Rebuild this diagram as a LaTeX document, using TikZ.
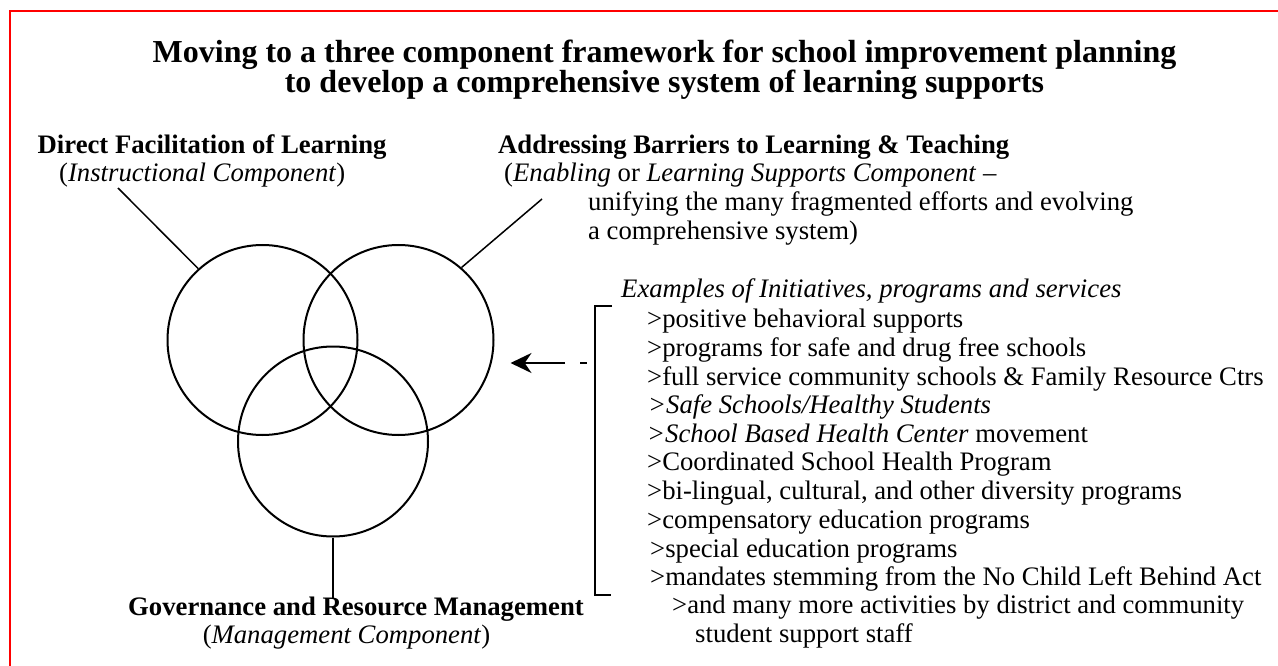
\documentclass[tikz,border=0pt]{standalone}
\usepackage{fontspec}
\setmainfont{Liberation Serif}
\usetikzlibrary{arrows.meta}

\newcommand\titlesize{\fontsize{32}{30}\selectfont}
\newcommand\bodysize{\fontsize{26.7}{28.7}\selectfont}

\tikzset{
  ring/.style={draw, circle, minimum size=190pt, line width=2pt},
  headline/.style={inner sep=0pt, anchor=base west, font=\bodysize\bfseries},
  textline/.style={inner sep=0pt, anchor=base west, font=\bodysize},
}

\begin{document}
\begin{tikzpicture}[x=1pt, y=-1pt]
\useasboundingbox (0,0) rectangle (1278,666);

% frame
\draw[red, line width=2pt] (1278,11) -- (10,11) -- (10,666);

% title
\node[inner sep=0pt, anchor=base, font=\titlesize\bfseries] (title1) at (664.5,63)
  {Moving to a three component framework for school improvement planning};
\node[inner sep=0pt, anchor=base, font=\titlesize\bfseries] (title2) at (664.5,93)
  {to develop a comprehensive system of learning supports};

% the three components
\node[ring] (instr) at (262.5,340) {};
\node[ring] (enabl) at (398.5,340) {};
\node[ring] (manag) at (333,441.5) {};

\node[headline] (instrhead) at (37.5,154) {Direct Facilitation of Learning};
\node[textline] (instrsub) at (59,182) {(\textit{Instructional Component})};

\node[headline] (enablhead) at (498,154) {Addressing Barriers to Learning \& Teaching};
\node[textline] (enablsub1) at (504,182) {(\textit{Enabling} or \textit{Learning Supports Component} --};
\node[textline] (enablsub2) at (588,211) {unifying the many fragmented efforts and evolving};
\node[textline] (enablsub3) at (588,240) {a comprehensive system)};

\node[headline, anchor=base] (managhead) at (356,615) {Governance and Resource Management};
\node[textline, anchor=base] (managsub) at (346.5,643) {(\textit{Management Component})};

\coordinate (instrtail) at (118,188);
\coordinate (enabltail) at (542,199);
\draw[line width=1.5pt] (instrtail) -- (instr.132);
\draw[line width=1.5pt] (enabltail) -- (enabl.49);
\draw[line width=2pt] (manag.south) -- ++(0,61);

% examples list
\node[textline] (ex) at (621,297) {\textit{Examples of Initiatives, programs and services}};
\node[textline] (i1) at (647,327) {>positive behavioral supports};
\node[textline] (i2) at (647,356) {>programs for safe and drug free schools};
\node[textline] (i3) at (647,385) {>full service community schools \& Family Resource Ctrs};
\node[textline] (i4) at (648,413) {\textit{>Safe Schools/Healthy Students}};
\node[textline] (i5) at (647,442) {\textit{>School Based Health Center} movement};
\node[textline] (i6) at (647,470) {>Coordinated School Health Program};
\node[textline] (i7) at (647,499) {>bi-lingual, cultural, and other diversity programs};
\node[textline] (i8) at (647,528) {>compensatory education programs};
\node[textline] (i9) at (650,557) {>special education programs};
\node[textline] (i10) at (650,585) {>mandates stemming from the No Child Left Behind Act};
\node[textline] (i11) at (672,613) {>and many more activities by district and community};
\node[textline] (i12) at (695,642) {student support staff};

% bracket and arrow
\coordinate (brtop) at (595,306);
\coordinate (brbot) at (595,595);
\draw[line width=2.5pt] ([xshift=17pt]brtop) -- (brtop) -- (brbot) -- ([xshift=16pt]brbot);

\coordinate (listtap) at (586.5,363);
\draw[line width=2.5pt, dash pattern=on 6.5pt off 15pt on 200pt,
      -{Stealth[length=21pt,width=20pt]}, shorten >=16pt]
  (listtap) -- (enabl.east |- listtap);

\end{tikzpicture}
\end{document}
